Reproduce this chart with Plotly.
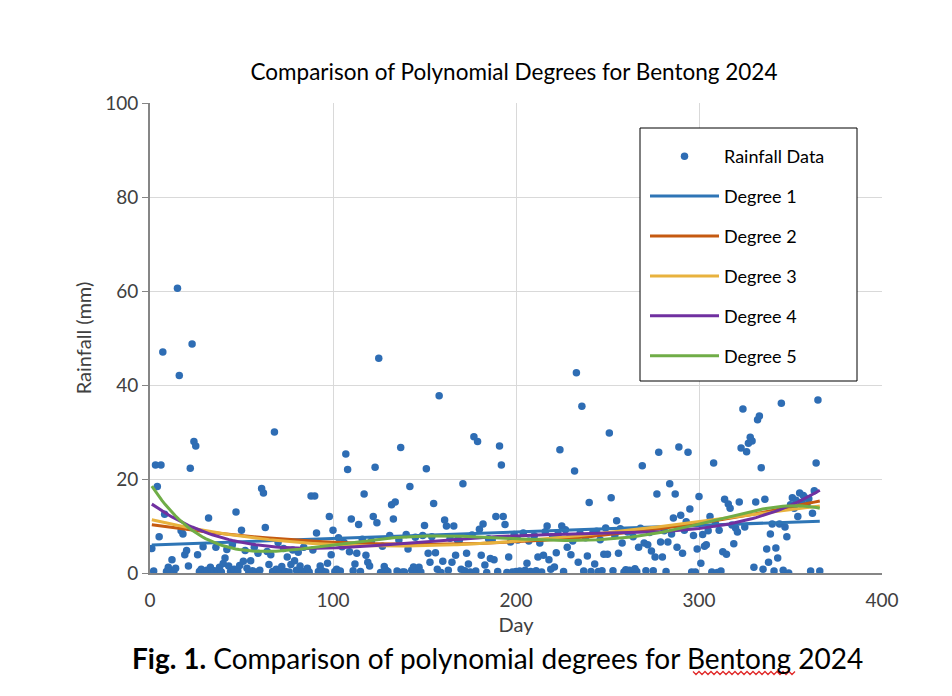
import numpy as np
import plotly.graph_objects as go

# Daily rainfall (mm) for Bentong 2024, day 1..366
rain = [
    5.2, 0.4, 23.0, 18.4, 7.7, 23.0, 47.0, 12.5, 0.3, 1.2,
    0.5, 2.8, 0.2, 1.0, 60.6, 42.0, 9.0, 8.3, 3.9, 4.8,
    1.5, 22.3, 48.7, 28.0, 27.0, 3.9, 0.3, 0.8, 5.6, 0.2,
    0.6, 11.7, 1.2, 0.3, 0.5, 5.5, 0.4, 1.2, 0.2, 2.0,
    3.2, 5.0, 1.5, 0.3, 6.0, 0.8, 13.0, 0.4, 1.6, 9.1,
    2.5, 4.8, 1.0, 0.2, 2.6, 0.5, 5.5, 0.2, 4.2, 0.6,
    18.0, 17.0, 9.7, 4.6, 1.8, 3.9, 0.3, 30.0, 0.8, 6.5,
    0.2, 1.4, 5.2, 0.3, 3.4, 0.2, 1.8, 4.9, 2.6, 0.6,
    4.4, 1.5, 0.3, 5.5, 0.4, 1.0, 0.2, 16.4, 4.9, 16.4,
    8.5, 0.3, 1.5, 0.5, 6.0, 0.2, 2.1, 12.0, 3.9, 9.1,
    0.3, 0.8, 7.5, 0.4, 5.6, 6.5, 25.3, 22.0, 4.5, 11.5,
    0.5, 1.9, 4.2, 10.3, 0.3, 7.2, 16.8, 3.8, 2.3, 1.5,
    6.8, 12.0, 22.5, 10.7, 45.7, 0.1, 5.7, 1.4, 0.6, 0.3,
    8.0, 14.5, 11.5, 15.1, 0.4, 7.0, 26.7, 0.2, 0.2, 8.2,
    5.1, 18.4, 0.6, 1.3, 7.6, 0.4, 1.2, 0.2, 8.0, 10.1,
    22.2, 4.2, 2.3, 7.7, 14.8, 4.3, 0.8, 37.7, 0.1, 2.5,
    11.3, 10.0, 0.6, 7.4, 2.3, 10.0, 3.8, 7.0, 6.9, 0.8,
    19.0, 0.5, 4.2, 1.9, 0.2, 8.1, 29.0, 0.4, 28.0, 9.3,
    3.8, 10.4, 1.7, 0.1, 7.3, 3.1, 7.0, 2.8, 12.0, 0.3,
    27.0, 23.0, 12.0, 10.3, 0.1, 3.4, 6.6, 0.2, 8.2, 0.3,
    7.0, 0.4, 0.1, 8.5, 0.6, 2.1, 6.8, 0.3, 0.1, 7.9,
    0.5, 3.4, 6.4, 0.2, 3.8, 8.8, 10.0, 2.8, 0.8, 7.6,
    1.3, 4.3, 8.3, 26.2, 10.0, 0.3, 9.2, 5.5, 7.4, 3.9,
    6.8, 21.7, 42.6, 2.3, 8.4, 35.5, 0.4, 7.5, 3.6, 15.0,
    0.3, 8.5, 1.9, 8.9, 0.3, 7.1, 0.5, 4.0, 9.6, 4.0,
    29.8, 16.0, 0.5, 8.0, 11.1, 4.2, 9.4, 6.4, 0.2, 0.7,
    8.7, 0.6, 0.2, 7.7, 0.9, 0.3, 5.5, 9.5, 22.8, 6.4,
    0.5, 6.0, 8.6, 4.7, 0.5, 3.4, 16.8, 25.7, 6.6, 3.4,
    9.0, 0.3, 6.6, 19.0, 8.3, 11.7, 16.8, 5.5, 26.8, 12.3,
    4.2, 9.1, 10.9, 25.7, 13.6, 0.2, 8.0, 0.2, 5.1, 16.3,
    2.1, 8.2, 5.7, 6.0, 9.0, 12.0, 0.2, 23.4, 10.5, 0.1,
    9.1, 0.4, 4.5, 15.7, 4.0, 14.7, 13.8, 10.2, 6.2, 9.6,
    8.7, 15.1, 26.6, 34.9, 9.8, 25.8, 27.6, 28.9, 28.1, 1.2,
    15.1, 32.6, 33.4, 22.4, 0.8, 15.7, 5.1, 2.3, 8.3, 10.4,
    0.4, 5.3, 3.2, 10.4, 36.1, 0.6, 9.8, 7.7, 0.0, 14.5,
    16.0, 13.8, 15.5, 12.0, 17.0, 15.0, 16.5, 16.0, 14.5, 15.8,
    0.4, 12.7, 17.5, 23.4, 36.8, 0.4,
]
days = list(range(1, len(rain) + 1))

degrees = [1, 2, 3, 4, 5]
degree_names = ["Degree 1", "Degree 2", "Degree 3", "Degree 4", "Degree 5"]
degree_colors = ["#2E75B6", "#C55A11", "#E8B23E", "#7030A0", "#70AD47"]

x = np.array(days, dtype=float)
y = np.array(rain, dtype=float)

fig = go.Figure()

fig.add_trace(
    go.Scatter(
        x=days,
        y=rain,
        mode="markers",
        name="Rainfall Data",
        legendgroup="data",
        marker=dict(size=7.5, color="#2E6DB4"),
    )
)

# polynomial trend lines fitted to the daily data
x_fit = np.linspace(x.min(), x.max(), 200)
for deg, name, color in zip(degrees, degree_names, degree_colors):
    p = np.polynomial.Polynomial.fit(x, y, deg)
    fig.add_trace(
        go.Scatter(
            x=x_fit,
            y=p(x_fit),
            mode="lines",
            name=name,
            legendgroup=name,
            line=dict(color=color, width=3),
        )
    )

font_family = "Lato, 'Open Sans', sans-serif"

# page body has an 8px margin, so the figure is drawn 8px smaller
W, H = 944, 688

fig.update_layout(
    width=W,
    height=H,
    margin=dict(l=142, r=70, t=95, b=123),
    paper_bgcolor="white",
    plot_bgcolor="white",
    font=dict(family=font_family, color="#404040"),
    title=dict(
        text="Comparison of Polynomial Degrees for Bentong 2024",
        x=(514 - 8) / W,
        xanchor="center",
        y=1 - (72 - 8) / H,
        yanchor="middle",
        font=dict(size=22.5, color="#000000"),
    ),
    xaxis=dict(
        range=[0, 400],
        dtick=100,
        showgrid=True,
        gridcolor="#D9D9D9",
        zeroline=False,
        showline=True,
        linecolor="#868686",
        linewidth=2,
        ticklabelstandoff=9,
        tickfont=dict(size=19, color="#404040"),
        title=dict(text="Day", font=dict(size=20, color="#404040"), standoff=8),
    ),
    yaxis=dict(
        range=[0, 100],
        dtick=20,
        showgrid=True,
        gridcolor="#D9D9D9",
        zeroline=False,
        showline=True,
        linecolor="#868686",
        linewidth=2,
        ticks="outside",
        ticklen=6,
        tickcolor="#868686",
        tickfont=dict(size=19, color="#404040"),
        title=dict(text="Rainfall (mm)", font=dict(size=20, color="#404040"), standoff=8),
    ),
    legend=dict(
        x=(645 - 150) / 732,
        y=(573 - 138) / 470,
        xanchor="left",
        yanchor="top",
        bgcolor="rgba(0,0,0,0)",
        borderwidth=0,
        font=dict(size=18, color="#000000"),
        tracegroupgap=13.5,
        itemwidth=69,
    ),
    showlegend=True,
)

# legend frame
fig.add_shape(
    type="rect",
    xref="paper",
    yref="paper",
    x0=(640 - 150) / 732,
    x1=(857 - 150) / 732,
    y0=(573 - 381) / 470,
    y1=(573 - 128) / 470,
    line=dict(color="#000000", width=1),
    fillcolor="white",
    layer="above",
)

# figure caption below the chart
fig.add_annotation(
    text="<b>Fig. 1.</b> Comparison of polynomial degrees for Bentong 2024",
    xref="paper",
    yref="paper",
    x=(497 - 150) / 732,
    y=(573 - 658) / 470,
    xanchor="center",
    yanchor="middle",
    showarrow=False,
    font=dict(size=28, color="#000000", family=font_family),
)

# red spell-check squiggle under "Bentong"
sx0, sx1, sy = 693, 797, 673
pts = []
for i, px in enumerate(range(sx0, sx1 + 1, 3)):
    py = sy + (1.5 if i % 2 else -1.5)
    pts.append(((px - 150) / 732, (573 - py) / 470))
path = "M " + " L ".join(f"{a:.5f},{b:.5f}" for a, b in pts)
fig.add_shape(
    type="path",
    xref="paper",
    yref="paper",
    path=path,
    line=dict(color="#E02828", width=1.3),
)

fig.write_html("out.html")
